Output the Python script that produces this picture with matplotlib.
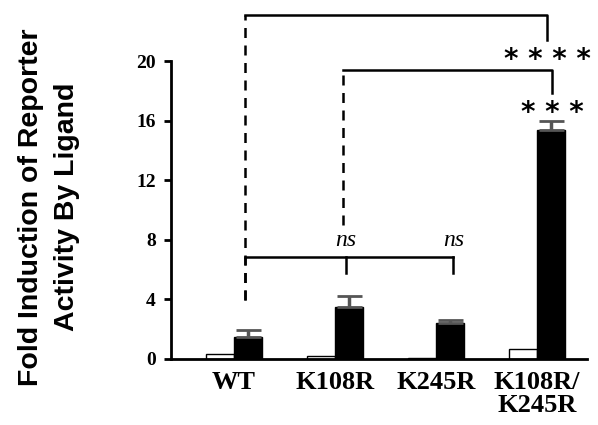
import numpy as np
import matplotlib.pyplot as plt

groups = ["WT", "K108R", "K245R", "K108R/\nK245R"]
no_ligand = [0.35, 0.2, 0.05, 0.65]
ligand = [1.5, 3.5, 2.4, 15.4]
ligand_err = [0.45, 0.7, 0.2, 0.55]
yticks = [0, 4, 8, 12, 16, 20]

fig = plt.figure(figsize=(5.98, 4.25), dpi=100)
ax = fig.add_axes([0.286, 0.1553, 0.6957, 0.701])

x = np.arange(len(groups))
w = 0.28
ax.bar(x - w / 2, no_ligand, w, color="white", edgecolor="black", linewidth=1)
ax.bar(x + w / 2, ligand, w, color="black", edgecolor="black", linewidth=1,
       yerr=[np.zeros(4), ligand_err], error_kw=dict(ecolor="#555555", elinewidth=2.5, capsize=9, capthick=2))

ax.set_xlim(-0.624, 3.495)
ax.set_ylim(0, 20)
ax.set_yticks(yticks)
ax.set_yticklabels([str(t) for t in yticks], family="Liberation Serif", fontweight="bold", fontsize=14)
ax.set_xticks(x)
ax.set_xticklabels(groups, family="Liberation Serif", fontweight="bold", fontsize=19, linespacing=1.0)
ax.tick_params(axis="x", length=0, pad=9)
ax.tick_params(axis="y", direction="out", length=5, width=2, pad=6)
for s in ["top", "right"]:
    ax.spines[s].set_visible(False)
ax.spines["left"].set_linewidth(2)
ax.spines["bottom"].set_linewidth(2)

kw = dict(color="black", lw=1.8, clip_on=False)
dkw = dict(color="black", lw=1.8, clip_on=False, linestyle=(0, (4, 3)))

# WT vs double mutant
ax.plot([0.11, 0.11], [3.96, 23.1], **dkw)
ax.plot([0.11, 3.1, 3.1], [23.1, 23.1, 21.4], **kw)
ax.text(3.1, 20.1, "* * * *", ha="center", va="center", fontsize=20, fontweight="bold", clip_on=False)

# K108R vs double mutant
ax.plot([1.08, 1.08], [9.0, 19.4], **dkw)
ax.plot([1.08, 3.15, 3.15], [19.4, 19.4, 17.85], **kw)
ax.text(3.15, 16.5, "* * *", ha="center", va="center", fontsize=20, fontweight="bold", clip_on=False)

# WT vs single mutants
ax.plot([0.11, 0.11], [3.96, 6.85], **dkw)
ax.plot([0.11, 2.17], [6.85, 6.85], **kw)
ax.plot([1.11, 1.11], [6.85, 5.77], **kw)
ax.plot([2.17, 2.17], [6.85, 5.77], **kw)
ax.text(1.11, 7.95, "ns", ha="center", va="center", fontsize=17, style="italic", family="Liberation Serif")
ax.text(2.17, 7.95, "ns", ha="center", va="center", fontsize=17, style="italic", family="Liberation Serif")

fig.text(0.082, 0.513, "Fold Induction of Reporter\nActivity By Ligand", rotation=90,
         ha="center", va="center", multialignment="center", fontsize=20.5, fontweight="bold",
         family="Liberation Sans", linespacing=1.5)

fig.savefig("out.png", dpi=100)
